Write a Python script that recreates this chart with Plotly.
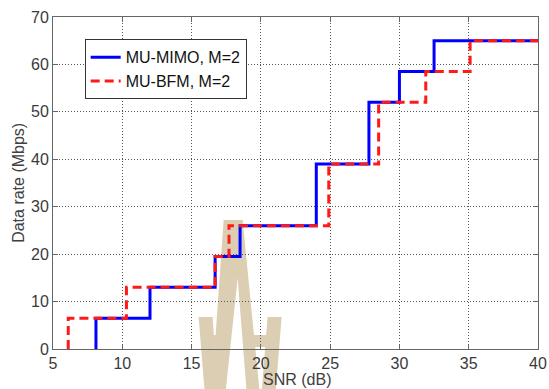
import plotly.graph_objects as go

# ---- data ----
rates = [0, 6.5, 13, 19.5, 26, 39, 52, 58.5, 65, 65]
mimo_snr = [8.1, 8.1, 12.0, 16.7, 18.5, 24.0, 27.8, 30.0, 32.5, 40]
bfm_snr = [6.1, 6.1, 10.3, 16.7, 17.7, 24.9, 28.5, 31.9, 35.1, 40]
names = ["MU-MIMO, M=2", "MU-BFM, M=2"]
x_ticks = [5, 10, 15, 20, 25, 30, 35, 40]
y_ticks = [0, 10, 20, 30, 40, 50, 60, 70]

W, H = 549, 389
L, R, T, B = 53.3, 538.5, 16.7, 349.0

fig = go.Figure()
fig.add_trace(go.Scatter(x=mimo_snr, y=rates, mode="lines", name=names[0],
                         line=dict(color="#0000ff", width=3, shape="hv")))
fig.add_trace(go.Scatter(x=bfm_snr, y=rates, mode="lines", name=names[1],
                         line=dict(color="#ff1a1a", width=3, shape="hv", dash="9px,5px")))

# watermark logo (decoration), pixel coords -> paper coords
def P(px, py):
    return (px - L) / (R - L), (B - py) / (B - T)

def path(pts):
    s = ""
    for i, (px, py) in enumerate(pts):
        x, y = P(px, py)
        s += ("M" if i == 0 else "L") + f"{x:.4f},{y:.4f} "
    return s + "Z"

polys = [
    [(224, 220), (243, 220), (260, 392), (247, 392), (238, 278), (226, 392), (212, 392)],
    [(199, 317), (213, 317), (218, 392), (205, 392)],
    [(268, 317), (282, 317), (276, 392), (262, 392)],
    [(211, 335), (226, 335), (225, 347), (212, 347)],
    [(249, 335), (267, 335), (266, 347), (250, 347)],
]
for pts in polys:
    fig.add_shape(type="path", path=path(pts), xref="paper", yref="paper",
                  fillcolor="rgb(220,206,178)", line=dict(width=0), layer="below")

axis_common = dict(
    showline=True, linecolor="#666666", linewidth=1, mirror="ticks",
    ticks="inside", ticklen=5, tickcolor="#666666",
    showgrid=True, gridcolor="#555555", gridwidth=1, griddash="1px,2px",
    zeroline=False, automargin=False,
    tickfont=dict(family="Liberation Sans, Arial", size=16, color="#3a3a3a"),
)
fig.update_xaxes(range=[5, 40], tickvals=x_ticks, **axis_common)
fig.update_yaxes(range=[0, 70], tickvals=y_ticks, **axis_common)

title_font = dict(family="Liberation Sans, Arial", size=16, color="#404040")
fig.add_annotation(text="SNR (dB)", xref="paper", yref="paper",
                   x=P(297, 0)[0], y=P(0, 380)[1], showarrow=False,
                   xanchor="center", yanchor="middle", font=title_font)
fig.add_annotation(text="Data rate (Mbps)", xref="paper", yref="paper",
                   x=P(18, 0)[0], y=P(0, 183)[1], showarrow=False, textangle=-90,
                   xanchor="center", yanchor="middle", font=title_font)

fig.update_layout(
    width=W, height=H,
    margin=dict(l=L, r=W - R, t=T, b=H - B, autoexpand=False),
    paper_bgcolor="white", plot_bgcolor="white",
    showlegend=True,
    legend=dict(x=P(85, 0)[0], y=P(0, 39)[1], xanchor="left", yanchor="top",
                bgcolor="white", bordercolor="#333333", borderwidth=1,
                font=dict(family="Liberation Sans, Arial", size=16, color="#111111"),
                tracegroupgap=0),
)

fig.write_html("out.html")
